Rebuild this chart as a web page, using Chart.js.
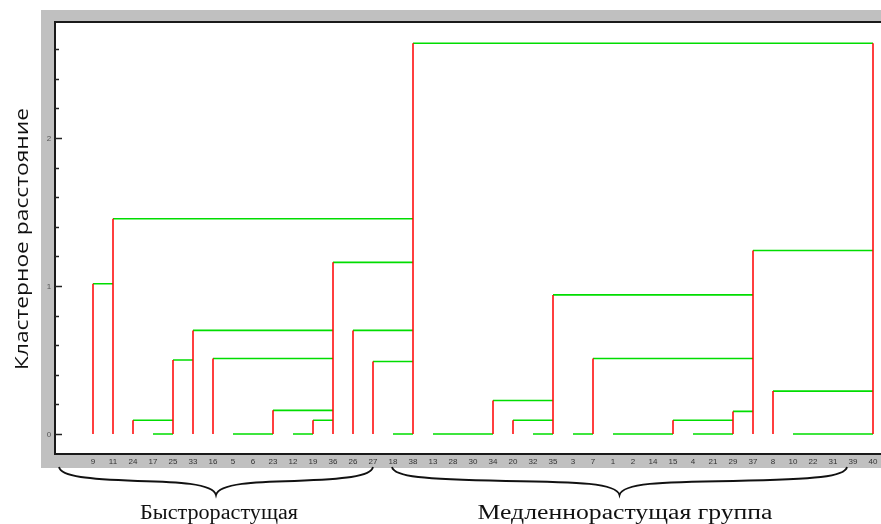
<!DOCTYPE html>
<html>
<head>
<meta charset="utf-8">
<script src="https://cdn.jsdelivr.net/npm/chart.js@4"></script>
<style>
html,body{margin:0;padding:0;background:#fff;}
#wrap{width:881px;height:524px;}
</style>
</head>
<body>
<div id="wrap"><canvas id="c" width="881" height="524"></canvas></div>
<script>
// Leaves in dendrogram order
const leafLabels = ['9','11','24','17','25','33','16','5','6','23','12','19','36','26','27','18','38',
  '13','28','30','34','20','32','35','3','7','1','2','14','15','4','21','29','37','8','10','22','31','39','40'];
// Height at which each leaf's branch joins the cluster on its right
const joinHeights = [1.015,1.455,0.093,0,0.50,0.70,0.51,0,0,0.16,0,0.093,1.16,0.70,0.49,0,2.64,
  0,0,0,0.227,0.093,0,0.94,0,0.51,0,0,0,0.093,0,0,0.153,1.24,0.29,0,0,0,0,2.64];
// Leaf whose branch it joins (null = root)
const joinTargets = ['11','38','25','25','33','36','36','6','23','36','19','36','38','38','38','38','40',
  '28','30','34','35','35','35','37','7','37','2','14','15','29','21','29','37','40','40','22','31','39','40',null];
const yTickValues = [0,0.2,0.4,0.6,0.8,1,1.2,1.4,1.6,1.8,2,2.2,2.4,2.6];
const yTickLabels = {0:'0',1:'1',2:'2'};
const yAxisTitle = 'Кластерное расстояние';
const groupNames = ['Быстрорастущая','Медленнорастущая группа'];

const redData = [], greenData = [];
leafLabels.forEach((lab, i) => {
  const h = joinHeights[i];
  if (h > 0) { redData.push({x:i,y:0},{x:i,y:h},{x:i,y:null}); }
  const t = joinTargets[i];
  if (t !== null) {
    const j = leafLabels.indexOf(t);
    greenData.push({x:i,y:h},{x:j,y:h},{x:j,y:null});
  }
});

function fitText(ctx, text, cx, cy, width) {
  const w = ctx.measureText(text).width;
  ctx.save();
  ctx.translate(cx, cy);
  ctx.scale(width / w, 1);
  ctx.textAlign = 'center';
  ctx.fillText(text, 0, 0);
  ctx.restore();
}

const framePlugin = {
  id: 'frame',
  beforeDraw(chart) {
    const ctx = chart.ctx, a = chart.chartArea;
    ctx.save();
    ctx.fillStyle = '#fff';
    ctx.fillRect(0,0,chart.width,chart.height);
    ctx.fillStyle = '#c0c0c0';
    ctx.fillRect(41,10,chart.width-41,468-10);
    ctx.fillStyle = '#fff';
    ctx.fillRect(a.left,a.top,chart.width-a.left,a.bottom-a.top);
    // borders
    ctx.strokeStyle = '#1a1a1a';
    ctx.lineWidth = 2;
    ctx.beginPath();
    ctx.moveTo(chart.width, a.top); ctx.lineTo(a.left, a.top); ctx.lineTo(a.left, a.bottom); ctx.lineTo(chart.width, a.bottom);
    ctx.stroke();
    // y ticks
    const ys = chart.scales.y, xs = chart.scales.x;
    ctx.lineWidth = 1.5;
    ctx.strokeStyle = '#222';
    ctx.fillStyle = '#555';
    ctx.font = '8px "Liberation Sans", Arial, sans-serif';
    ctx.textAlign = 'center';
    ctx.textBaseline = 'middle';
    yTickValues.forEach(v => {
      const py = Math.round(ys.getPixelForValue(v)) + 0.5;
      const major = yTickLabels[v] !== undefined;
      ctx.beginPath();
      ctx.moveTo(a.left, py); ctx.lineTo(a.left + (major ? 7 : 4), py);
      ctx.stroke();
      if (major) ctx.fillText(yTickLabels[v], 49, py);
    });
    // x labels
    ctx.fillStyle = '#333';
    leafLabels.forEach((lab,i) => {
      ctx.fillText(lab, xs.getPixelForValue(i), 461.5);
    });
    // y axis title
    ctx.save();
    ctx.translate(28, 239);
    ctx.rotate(-Math.PI/2);
    ctx.fillStyle = '#111';
    ctx.font = '18px "Open Sans", sans-serif';
    ctx.textBaseline = 'alphabetic';
    fitText(ctx, yAxisTitle, 0, 0, 262);
    ctx.restore();
    // braces + group names
    ctx.strokeStyle = '#111';
    ctx.lineWidth = 1.8;
    ctx.fillStyle = '#111';
    ctx.font = '20px "Liberation Serif", "Times New Roman", serif';
    ctx.textBaseline = 'alphabetic';
    const braces = [[59,373],[392,847]];
    const textPos = [[219,158],[625,295]];
    braces.forEach((b, g) => {
      const left = b[0], right = b[1];
      const xc = (left + right) / 2;
      const y0 = 467, ym = 481, yt = 495;
      ctx.beginPath();
      ctx.moveTo(left, y0);
      ctx.bezierCurveTo(left + 2, y0 + 10, left + 30, ym - 2, (left + xc) / 2, ym);
      ctx.bezierCurveTo(xc - 40, ym + 1, xc - 3, ym + 2, xc, yt);
      ctx.bezierCurveTo(xc + 3, ym + 2, xc + 40, ym + 1, (right + xc) / 2, ym);
      ctx.bezierCurveTo(right - 30, ym - 2, right - 2, y0 + 10, right, y0);
      ctx.stroke();
      fitText(ctx, groupNames[g], textPos[g][0], 519, textPos[g][1]);
    });
    ctx.restore();
  }
};

new Chart(document.getElementById('c'), {
  type: 'scatter',
  data: {
    datasets: [
      {label:'red', data: redData, showLine: true, spanGaps: false, borderColor: '#ff0000', borderWidth: 1.5, pointRadius: 0, pointHoverRadius: 0},
      {label:'green', data: greenData, showLine: true, spanGaps: false, borderColor: '#00dd00', borderWidth: 1.6, pointRadius: 0, pointHoverRadius: 0}
    ]
  },
  options: {
    responsive: false,
    devicePixelRatio: 1,
    animation: false,
    layout: { padding: { left: 55, top: 22, right: 0, bottom: 70 } },
    plugins: { legend: { display: false }, tooltip: { enabled: false } },
    scales: {
      x: { type: 'linear', display: false, min: -1.9, max: 39.4 },
      y: { type: 'linear', display: false, min: -0.135, max: 2.784 }
    }
  },
  plugins: [framePlugin]
});
</script>
</body>
</html>
